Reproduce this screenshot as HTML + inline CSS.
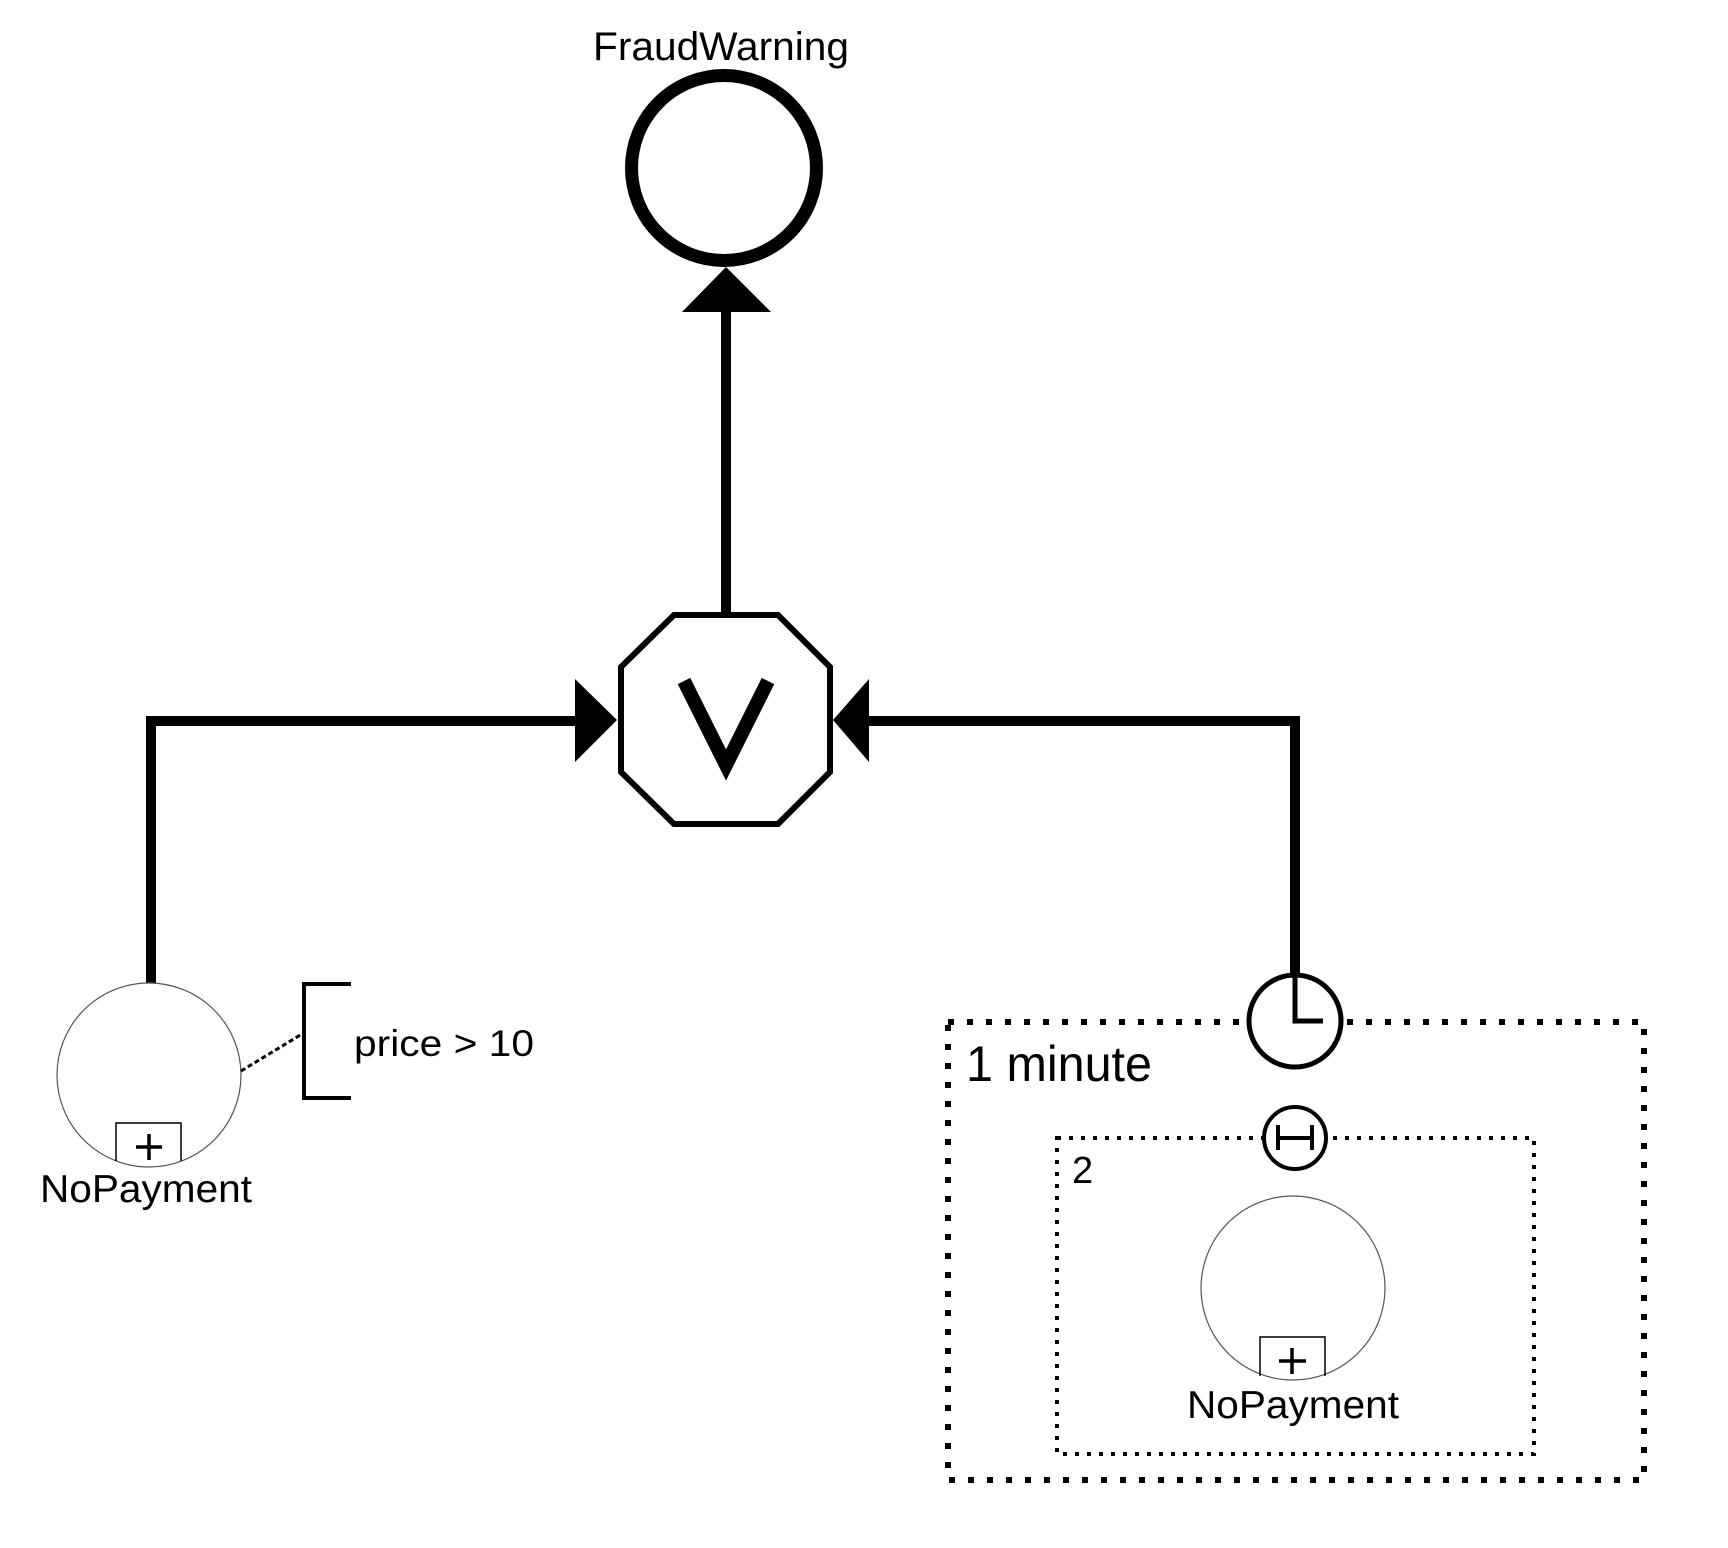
<!DOCTYPE html>
<html><head><meta charset="utf-8"><style>html,body{margin:0;padding:0;background:#fff}svg{display:block}</style></head>
<body>
<svg width="1728" height="1548" viewBox="0 0 1728 1548" xmlns="http://www.w3.org/2000/svg" font-family="Liberation Sans, Arial, sans-serif">
<rect width="1728" height="1548" fill="#fff"/>
<text x="721" y="60" font-size="40" text-anchor="middle" textLength="256" lengthAdjust="spacingAndGlyphs">FraudWarning</text>
<circle cx="724" cy="168" r="92.5" fill="none" stroke="#000" stroke-width="13"/>
<polygon points="726,267 682,312 771,312" fill="#000"/>
<line x1="726" y1="310" x2="726" y2="614" stroke="#000" stroke-width="10"/>
<polygon points="674,615 778,615 830,667 830,772 778,824 674,824 621,772 621,667" fill="#fff" stroke="#000" stroke-width="6"/>
<polyline points="684,681 726,765 768,681" fill="none" stroke="#000" stroke-width="14" stroke-linejoin="miter"/>
<polyline points="151,985 151,721 580,721" fill="none" stroke="#000" stroke-width="10"/>
<polygon points="575,679 617,720 575,762" fill="#000"/>
<polyline points="1295,975 1295,721 866,721" fill="none" stroke="#000" stroke-width="10"/>
<polygon points="869,679 833,720 869,762" fill="#000"/>
<circle cx="149" cy="1075" r="92" fill="#fff" stroke="#555" stroke-width="1.2"/>
<path d="M116,1161 L116,1123 L181,1123 L181,1161" fill="none" stroke="#000" stroke-width="1.5"/>
<line x1="136" y1="1147" x2="162" y2="1147" stroke="#000" stroke-width="3.5"/>
<line x1="149" y1="1134" x2="149" y2="1160" stroke="#000" stroke-width="3.5"/>
<text x="40" y="1202" font-size="39" textLength="212" lengthAdjust="spacingAndGlyphs">NoPayment</text>
<line x1="241" y1="1071" x2="302" y2="1034" stroke="#000" stroke-width="3" stroke-dasharray="5,3"/>
<polyline points="351,984 304,984 304,1098 351,1098" fill="none" stroke="#000" stroke-width="4"/>
<text x="354" y="1056" font-size="37" textLength="180" lengthAdjust="spacingAndGlyphs">price &gt; 10</text>
<rect x="948" y="1022" width="696" height="458" fill="none" stroke="#000" stroke-width="6" stroke-dasharray="6,13"/>
<circle cx="1295" cy="1021" r="46" fill="#fff" stroke="#000" stroke-width="5"/>
<polyline points="1295,975 1295,1021 1323,1021" fill="none" stroke="#000" stroke-width="5"/>
<text x="966" y="1081" font-size="50" textLength="186" lengthAdjust="spacingAndGlyphs">1 minute</text>
<rect x="1057" y="1138" width="477" height="316" fill="none" stroke="#000" stroke-width="4" stroke-dasharray="4,8"/>
<circle cx="1295" cy="1138" r="31" fill="#fff" stroke="#000" stroke-width="4"/>
<line x1="1278" y1="1125" x2="1278" y2="1150" stroke="#000" stroke-width="4"/>
<line x1="1312" y1="1125" x2="1312" y2="1150" stroke="#000" stroke-width="4"/>
<line x1="1278" y1="1138" x2="1312" y2="1138" stroke="#000" stroke-width="4"/>
<text x="1072" y="1183" font-size="38">2</text>
<circle cx="1293" cy="1288" r="92" fill="#fff" stroke="#555" stroke-width="1.2"/>
<path d="M1260,1376 L1260,1337 L1325,1337 L1325,1376" fill="none" stroke="#000" stroke-width="1.5"/>
<line x1="1279" y1="1361" x2="1306" y2="1361" stroke="#000" stroke-width="3.5"/>
<line x1="1292" y1="1348" x2="1292" y2="1374" stroke="#000" stroke-width="3.5"/>
<text x="1293" y="1418" font-size="39" text-anchor="middle" textLength="212" lengthAdjust="spacingAndGlyphs">NoPayment</text>
</svg>
</body></html>
